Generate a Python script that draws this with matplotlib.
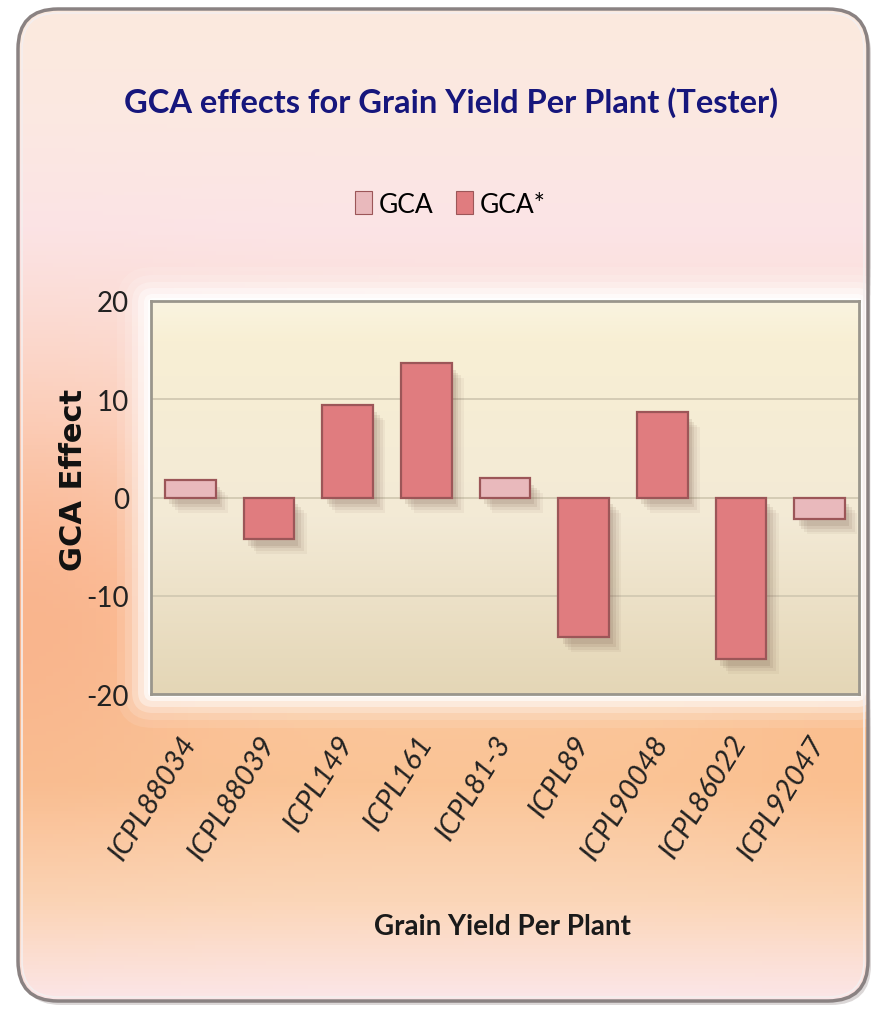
import numpy as np
import matplotlib
matplotlib.use("Agg")
import matplotlib.pyplot as plt
from matplotlib.patches import FancyBboxPatch, Patch
import matplotlib.patheffects as pe

plt.rcParams["axes.unicode_minus"] = False

# ---- data ----
categories = ["ICPL88034", "ICPL88039", "ICPL149", "ICPL161", "ICPL81-3",
              "ICPL89", "ICPL90048", "ICPL86022", "ICPL92047"]
values = [1.8, -4.2, 9.4, 13.7, 2.0, -14.2, 8.7, -16.4, -2.2]
significant = [False, True, True, True, False, True, True, True, False]
series_names = ["GCA", "GCA*"]
yticks = [-20, -10, 0, 10, 20]

title = "GCA effects for Grain Yield Per Plant (Tester)"
xlabel = "Grain Yield Per Plant"
ylabel = "GCA Effect"

c_gca = "#e9b9bc"
c_sig = "#e07c7f"

W, H = 875, 1012
fig = plt.figure(figsize=(W / 100, H / 100), dpi=100)
fig.patch.set_facecolor("white")

narrow = ["Lato", "DejaVu Sans"]


def interp(stops, t):
    pos = [s[0] for s in stops]
    out = np.zeros(t.shape + (3,))
    for ch in range(3):
        out[..., ch] = np.interp(t, pos, [s[1][ch] / 255 for s in stops])
    return out


# ---- figure background (rounded frame with gradient) ----
bg = fig.add_axes([0, 0, 1, 1], zorder=-10)
bg.set_xlim(0, W)
bg.set_ylim(H, 0)
bg.axis("off")

ny, nx = 250, 120
yy = np.linspace(0, 1, ny)[:, None] * np.ones((1, nx))
xx = np.ones((ny, 1)) * np.linspace(0, 1, nx)[None, :]
grad = interp([(0, (251, 234, 222)), (0.12, (252, 232, 226)), (0.22, (252, 228, 230)),
               (0.42, (252, 216, 200)), (0.62, (251, 200, 160)), (0.78, (250, 196, 150)),
               (0.9, (251, 214, 184)), (1.0, (252, 230, 232))], yy)
side = np.exp(-((xx - 0.0) / 0.22) ** 2) * np.exp(-((yy - 0.6) / 0.2) ** 2)
salmon = np.array([249, 168, 128]) / 255
grad = grad * (1 - 0.6 * side[..., None]) + salmon * 0.6 * side[..., None]
rside = np.exp(-((xx - 1.0) / 0.2) ** 2) * np.exp(-((yy - 0.72) / 0.12) ** 2)
rcol = np.array([250, 185, 135]) / 255
grad = grad * (1 - 0.5 * rside[..., None]) + rcol * 0.5 * rside[..., None]

fx0, fy0, fx1, fy1 = 18, 10, 868, 1002
bg.add_patch(FancyBboxPatch((fx0 + 3, fy0 + 4), fx1 - fx0, fy1 - fy0,
                            boxstyle="round,pad=0,rounding_size=40", fc="#b8b0b0", ec="none",
                            alpha=0.5, zorder=0))
im = bg.imshow(grad, extent=[fx0, fx1, fy1, fy0], aspect="auto", zorder=1)
clip = FancyBboxPatch((fx0, fy0), fx1 - fx0, fy1 - fy0,
                      boxstyle="round,pad=0,rounding_size=40", fc="none", ec="none")
bg.add_patch(clip)
im.set_clip_path(clip)
bg.add_patch(FancyBboxPatch((fx0, fy0), fx1 - fx0, fy1 - fy0,
                            boxstyle="round,pad=0,rounding_size=40", fc="none", ec="#8a8282",
                            lw=2.5, zorder=3))
bg.add_patch(FancyBboxPatch((fx0 + 4, fy0 + 4), fx1 - fx0 - 8, fy1 - fy0 - 8,
                            boxstyle="round,pad=0,rounding_size=36", fc="none", ec="#f4eeee",
                            lw=1.2, zorder=3))

# white glow around plot area
ax_l, ax_r, ax_t, ax_b = 151, 859, 302, 695
for pad, a in [(34, 0.10), (26, 0.16), (19, 0.25), (13, 0.4), (7, 0.6), (3, 0.85)]:
    bg.add_patch(FancyBboxPatch((ax_l - pad, ax_t - pad), (ax_r - ax_l) + 2 * pad,
                                (ax_b - ax_t) + 2 * pad,
                                boxstyle="round,pad=0,rounding_size=%d" % (pad + 2),
                                fc="white", ec="none", alpha=a, zorder=2))

# ---- main axes ----
ax = fig.add_axes([ax_l / W, 1 - ax_b / H, (ax_r - ax_l) / W, (ax_b - ax_t) / H])
n = len(categories)
ax.set_xlim(-0.5, n - 0.5)
ax.set_ylim(-20, 20)
pgrad = interp([(0, (228, 214, 182)), (0.45, (243, 234, 214)),
                (0.9, (248, 239, 212)), (1.0, (250, 244, 224))],
               np.linspace(0, 1, 200)[:, None] * np.ones((1, 10)))
ax.imshow(pgrad, extent=[-0.5, n - 0.5, -20, 20], origin="lower", aspect="auto", zorder=0)
ax.set_yticks(yticks)
ax.yaxis.grid(True, color="#d2c9b2", lw=1.3, zorder=1)
ax.set_axisbelow(True)
for s in ax.spines.values():
    s.set_color("#9a968c")
    s.set_linewidth(2)

x = np.arange(n)
colors = [c_sig if s else c_gca for s in significant]
bars = ax.bar(x, values, width=0.64, color=colors, edgecolor="#9c5658", linewidth=1.6,
              zorder=3)
shadow_fx = [pe.SimplePatchShadow(offset=(o, -o - 2), shadow_rgbFace="#6e5040", alpha=a)
             for o, a in [(9, 0.06), (7, 0.08), (5, 0.10), (3, 0.12)]]
for b in bars:
    b.set_path_effects(shadow_fx + [pe.Normal()])

ax.tick_params(axis="y", length=0, labelsize=20, pad=16, labelcolor="#222222")
ax.tick_params(axis="x", length=0, pad=31)
ax.set_xticks(x)
ax.set_xticklabels(categories, rotation=58, ha="right", va="center", rotation_mode="anchor",
                   fontsize=21, style="italic", color="#222222", family=narrow)
for lbl in ax.get_yticklabels():
    lbl.set_family(narrow)
ax.set_ylabel(ylabel, fontsize=22, fontweight="bold", family=["DejaVu Sans"],
              color="#111111", va="center", ha="center")
ax.yaxis.set_label_coords((73 - ax_l) / (ax_r - ax_l), (ax_b - 480) / (ax_b - ax_t))

fig.text(451 / W, 1 - 113 / H, title, ha="center", va="baseline", fontsize=23.5,
         color="#16167c", family=narrow, fontweight="bold")
fig.text(502 / W, 1 - 935 / H, xlabel, ha="center", va="baseline", fontsize=20,
         color="#1a1a1a", family=narrow, fontweight="bold")

handles = [Patch(fc=c_gca, ec="#9c5658", lw=0.8), Patch(fc=c_sig, ec="#9c5658", lw=0.8)]
fig.legend(handles, series_names, loc="center", bbox_to_anchor=(450 / W, 1 - 205 / H),
           ncol=2, frameon=False, handlelength=0.65, handleheight=0.95,
           handletextpad=0.25, columnspacing=0.85, prop={"family": narrow, "size": 19})

fig.savefig("out.png", dpi=100)
